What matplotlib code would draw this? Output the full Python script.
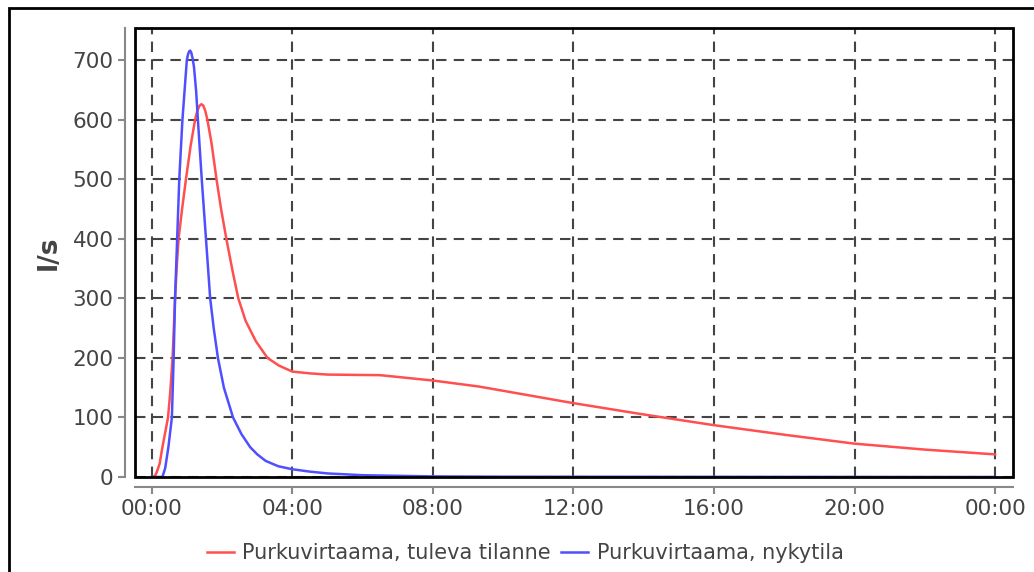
import matplotlib.pyplot as plt
from matplotlib.patches import Rectangle

# Tunnit (0 = 00:00) ja purkuvirtaamat l/s
tuleva_h = [0.0, 0.04, 0.1, 0.15, 0.22, 0.3, 0.38, 0.46, 0.52, 0.59, 0.66, 0.71, 0.76,
            0.86, 0.97, 1.1, 1.23, 1.29, 1.35, 1.41, 1.46, 1.52, 1.58, 1.7, 1.84, 1.97,
            2.12, 2.3, 2.46, 2.67, 2.96, 3.29, 3.62, 4.0, 4.5, 5.0, 6.5, 8.0, 9.3,
            12.0, 14.0, 16.0, 18.0, 20.0, 22.0, 24.0]
tuleva = [0, 0, 3, 10, 22, 50, 75, 100, 140, 200, 300, 355, 400,
          450, 500, 555, 600, 614, 623, 626, 624, 615, 600, 560, 500, 450,
          400, 345, 300, 262, 228, 200, 187, 177, 174, 172, 171, 162, 152,
          124, 105, 87, 71, 56, 46, 38]

nyky_h = [0.0, 0.3, 0.38, 0.47, 0.57, 0.62, 0.66, 0.72, 0.78, 0.87, 0.995, 1.03, 1.065,
          1.09, 1.12, 1.16, 1.2, 1.26, 1.31, 1.42, 1.54, 1.66, 1.76, 1.88, 2.05, 2.31,
          2.55, 2.8, 3.0, 3.24, 3.6, 4.0, 4.5, 5.0, 6.0, 7.0, 8.0, 10.0, 24.0]
nyky = [0, 0, 15, 50, 100, 200, 300, 400, 500, 600, 700, 710, 715,
        716, 713, 703, 688, 648, 600, 500, 400, 300, 250, 200, 150, 100,
        72, 50, 38, 27, 18, 13, 9, 6, 3, 2, 1, 0.5, 0]

xtick_pos = [0, 4, 8, 12, 16, 20, 24]
xtick_labels = ['00:00', '04:00', '08:00', '12:00', '16:00', '20:00', '00:00']
ytick_pos = [0, 100, 200, 300, 400, 500, 600, 700]

txt = '#444444'
fig = plt.figure(figsize=(10.34, 5.72), dpi=100)
ax = fig.add_axes([135 / 1034, 1 - 477 / 572, 878 / 1034, 449 / 572])

ax.plot(tuleva_h, tuleva, color='#ff4f4f', lw=1.8, label='Purkuvirtaama, tuleva tilanne')
ax.plot(nyky_h, nyky, color='#4f4fff', lw=1.8, label='Purkuvirtaama, nykytila')

ax.set_xlim(-0.48, 24.51)
ax.set_ylim(0, 754)
ax.set_xticks(xtick_pos)
ax.set_xticklabels(xtick_labels)
ax.set_yticks(ytick_pos)
ax.grid(True, color='#444444', ls=(0, (5, 3.5)), lw=1.5)

for s in ['top', 'right']:
    ax.spines[s].set_visible(False)
for s in ['left', 'bottom']:
    ax.spines[s].set_position(('outward', 7))
    ax.spines[s].set_color('#888888')
    ax.spines[s].set_linewidth(1.5)
ax.tick_params(colors='#888888', labelcolor=txt, labelsize=15.5, length=5, width=1.5)

# musta kehys piirtoalueen ympärille
ax.add_patch(Rectangle((0, 0), 1, 1, transform=ax.transAxes, fill=False,
                       ec='black', lw=2, clip_on=False, zorder=5))

ax.set_ylabel('l/s', fontsize=19, fontweight='bold', color=txt, labelpad=8)

fig.legend(loc='center', bbox_to_anchor=(0.508, 0.033), ncol=2, frameon=False,
           fontsize=15, handlelength=1.3, handletextpad=0.4, columnspacing=0.5,
           labelcolor=txt)

# ulkokehys
fig.add_artist(Rectangle((9 / 1034, -0.1), 1.2, 1 - 8 / 572 + 0.1, transform=fig.transFigure,
                         fill=False, ec='black', lw=2))

fig.savefig('out.png', dpi=100)
